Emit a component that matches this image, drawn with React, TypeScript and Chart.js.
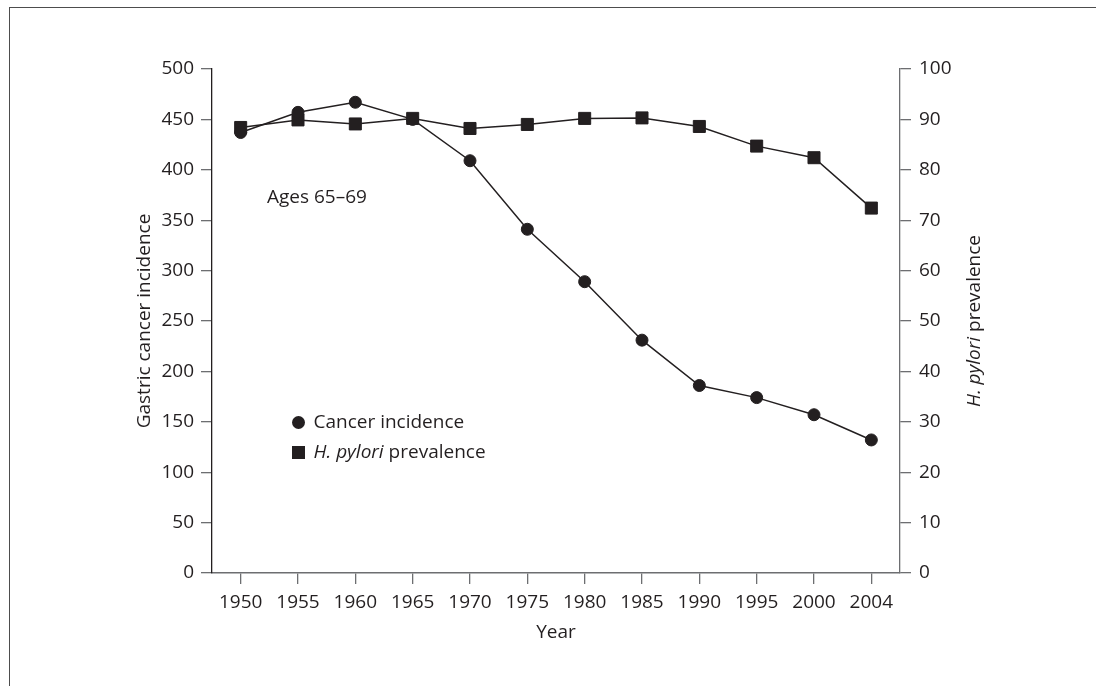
import React, { useEffect, useRef } from 'react';
import { Chart, registerables } from 'chart.js';

Chart.register(...registerables);

const years = ['1950', '1955', '1960', '1965', '1970', '1975', '1980', '1985', '1990', '1995', '2000', '2004'];
const cancerIncidence = [437, 457, 467, 450, 409, 341, 289, 231, 186, 174, 157, 132];
const hPyloriPrevalence = [88.4, 89.9, 89.1, 90.2, 88.2, 89.0, 90.2, 90.3, 88.6, 84.7, 82.4, 72.4];
const leftAxisRange = [0, 500];
const leftAxisStep = 50;
const rightAxisRange = [0, 100];
const rightAxisStep = 10;

const leftTitle = 'Gastric cancer incidence';
const xTitle = 'Year';
const annotation = 'Ages 65–69';
const legendCancer = 'Cancer incidence';
const legendItalic = 'H. pylori';
const legendRest = ' prevalence';

const FONT = '"Open Sans", "Noto Sans", sans-serif';
const FONT_SIZE = 19;
const INK = '#231f20';
const AXIS_GRAY = '#6d6e71';

function drawMixed(ctx: CanvasRenderingContext2D, x: number, y: number, align: 'left' | 'center') {
  ctx.font = `italic ${FONT_SIZE}px ${FONT}`;
  const w1 = ctx.measureText(legendItalic).width;
  ctx.font = `${FONT_SIZE}px ${FONT}`;
  const w2 = ctx.measureText(legendRest).width;
  let start = x;
  if (align === 'center') start = x - (w1 + w2) / 2;
  ctx.textAlign = 'left';
  ctx.font = `italic ${FONT_SIZE}px ${FONT}`;
  ctx.fillText(legendItalic, start, y);
  ctx.font = `${FONT_SIZE}px ${FONT}`;
  ctx.fillText(legendRest, start + w1, y);
}

const textPlugin = {
  id: 'textPlugin',
  afterDraw(chart: any) {
    const ctx: CanvasRenderingContext2D = chart.ctx;
    const area = chart.chartArea;
    const midY = (area.top + area.bottom) / 2;
    const midX = (area.left + area.right) / 2;
    ctx.save();
    ctx.fillStyle = INK;
    ctx.textBaseline = 'middle';

    // left axis title
    ctx.save();
    ctx.translate(area.left - 67, midY);
    ctx.rotate(-Math.PI / 2);
    ctx.textAlign = 'center';
    ctx.font = `${FONT_SIZE}px ${FONT}`;
    ctx.fillText(leftTitle, 0, 0);
    ctx.restore();

    // right axis title
    ctx.save();
    ctx.translate(area.right + 75, midY);
    ctx.rotate(-Math.PI / 2);
    drawMixed(ctx, 0, 0, 'center');
    ctx.restore();

    // x axis title
    ctx.textAlign = 'center';
    ctx.font = `${FONT_SIZE}px ${FONT}`;
    ctx.fillText(xTitle, midX, area.bottom + 60);

    // annotation
    ctx.textAlign = 'left';
    ctx.fillText(annotation, area.left + 55, area.top + 129);

    // legend
    const lx = area.left + 86.5;
    const ly1 = area.top + 353.5;
    const ly2 = area.top + 383.5;
    ctx.beginPath();
    ctx.arc(lx, ly1, 6.5, 0, Math.PI * 2);
    ctx.fill();
    ctx.fillRect(lx - 6.5, ly2 - 6.5, 13, 13);
    ctx.textAlign = 'left';
    ctx.fillText(legendCancer, lx + 15, ly1);
    drawMixed(ctx, lx + 15, ly2, 'left');
    ctx.restore();
  },
};

export default function App() {
  const ref = useRef<HTMLCanvasElement | null>(null);

  useEffect(() => {
    if (!ref.current) return;
    const tickFont = { family: FONT, size: FONT_SIZE };
    const chart = new Chart(ref.current, {
      type: 'line',
      data: {
        labels: years,
        datasets: [
          {
            label: 'Cancer incidence',
            data: cancerIncidence,
            yAxisID: 'y',
            borderColor: INK,
            backgroundColor: INK,
            borderWidth: 1.5,
            pointStyle: 'circle',
            pointRadius: 6,
            pointBorderWidth: 1,
            pointBackgroundColor: INK,
            pointBorderColor: INK,
            tension: 0,
          },
          {
            label: 'H. pylori prevalence',
            data: hPyloriPrevalence,
            yAxisID: 'y1',
            borderColor: INK,
            backgroundColor: INK,
            borderWidth: 1.5,
            pointStyle: 'rect',
            pointRadius: 8.5,
            pointBorderWidth: 1,
            pointBackgroundColor: INK,
            pointBorderColor: INK,
            tension: 0,
          },
        ],
      },
      options: {
        responsive: false,
        animation: false,
        layout: { padding: { top: 69, left: 0, right: 0, bottom: 0 } },
        plugins: {
          legend: { display: false },
          tooltip: { enabled: false },
        },
        scales: {
          x: {
            type: 'category',
            offset: true,
            afterFit: (s: any) => { s.height = 113; },
            grid: {
              drawOnChartArea: false,
              drawTicks: true,
              tickLength: 11,
              color: AXIS_GRAY,
              lineWidth: 1.3,
              offset: false,
            },
            border: { display: true, color: AXIS_GRAY, width: 1.5 },
            ticks: { color: INK, font: tickFont, padding: 7, maxRotation: 0, autoSkip: false },
          },
          y: {
            type: 'linear',
            position: 'left',
            min: leftAxisRange[0],
            max: leftAxisRange[1],
            afterFit: (s: any) => { s.width = 212; },
            grid: {
              drawOnChartArea: false,
              drawTicks: true,
              tickLength: 11,
              color: AXIS_GRAY,
              lineWidth: 1.3,
            },
            border: { display: true, color: INK, width: 1.3 },
            ticks: { stepSize: leftAxisStep, color: INK, font: tickFont, padding: 7 },
          },
          y1: {
            type: 'linear',
            position: 'right',
            min: rightAxisRange[0],
            max: rightAxisRange[1],
            afterFit: (s: any) => { s.width = 196; },
            grid: {
              drawOnChartArea: false,
              drawTicks: true,
              tickLength: 11,
              color: AXIS_GRAY,
              lineWidth: 1.3,
            },
            border: { display: true, color: AXIS_GRAY, width: 1.3 },
            ticks: { stepSize: rightAxisStep, color: INK, font: tickFont, padding: 8 },
          },
        },
      },
      plugins: [textPlugin],
    });
    return () => chart.destroy();
  }, []);

  return (
    <>
      <div
        style={{
          position: 'fixed',
          left: 9,
          top: 7,
          right: 0,
          bottom: 0,
          borderTop: '1px solid #4d4d4d',
          borderLeft: '1px solid #4d4d4d',
          boxSizing: 'border-box',
        }}
      />
      <canvas
        ref={ref}
        width={1096}
        height={686}
        style={{ position: 'fixed', left: 0, top: 0, width: 1096, height: 686 }}
      />
    </>
  );
}
